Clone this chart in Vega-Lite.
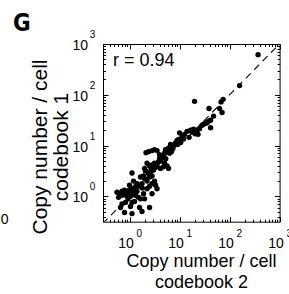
{
  "$schema": "https://vega.github.io/schema/vega-lite/v6.json",
  "autosize": {"type": "none"},
  "padding": {"left": 103, "top": 44, "right": 10, "bottom": 72},
  "width": 176.6,
  "height": 177.7,
  "background": "white",
  "title": {"text": "G", "anchor": "start", "frame": "group", "dx": -90, "dy": 45, "offset": 19, "baseline": "alphabetic", "fontSize": 24, "font": "Liberation Sans Narrow, DejaVu Sans Condensed, Liberation Sans, sans-serif", "fontWeight": "bold", "color": "black"},
  "config": {"view": {"stroke": "black", "strokeWidth": 1}, "font": "Liberation Sans"},
  "datasets": {
    "pts": [
      {"x": 371.5, "y": 616.6}, {"x": 158.5, "y": 151.4}, {"x": 19.95, "y": 74.13}, {"x": 74.13, "y": 81.28},
      {"x": 67.61, "y": 72.44}, {"x": 63.10, "y": 53.70}, {"x": 38.90, "y": 53.70}, {"x": 70.79, "y": 44.67},
      {"x": 47.86, "y": 38.02}, {"x": 41.69, "y": 31.62}, {"x": 38.02, "y": 30.20}, {"x": 35.48, "y": 28.18},
      {"x": 33.11, "y": 27.54}, {"x": 30.20, "y": 26.30}, {"x": 28.18, "y": 25.12}, {"x": 41.69, "y": 22.39},
      {"x": 23.44, "y": 16.60}, {"x": 25.12, "y": 21.38}, {"x": 22.39, "y": 19.95}, {"x": 19.05, "y": 20.89},
      {"x": 16.60, "y": 19.95}, {"x": 14.13, "y": 19.05}, {"x": 12.59, "y": 16.60}, {"x": 11.22, "y": 15.14},
      {"x": 10.0, "y": 17.78}, {"x": 9.55, "y": 13.18}, {"x": 8.913, "y": 12.59}, {"x": 8.318, "y": 11.22},
      {"x": 7.586, "y": 10.0}, {"x": 7.079, "y": 9.55}, {"x": 6.607, "y": 10.47}, {"x": 6.026, "y": 8.913},
      {"x": 5.623, "y": 7.943}, {"x": 5.248, "y": 8.318}, {"x": 6.31, "y": 7.079}, {"x": 5.012, "y": 7.079},
      {"x": 4.786, "y": 6.31}, {"x": 4.467, "y": 6.026}, {"x": 3.981, "y": 6.607}, {"x": 3.548, "y": 7.943},
      {"x": 3.162, "y": 8.318}, {"x": 2.818, "y": 7.943}, {"x": 2.399, "y": 7.586}, {"x": 2.138, "y": 7.244},
      {"x": 4.169, "y": 5.012}, {"x": 3.802, "y": 4.786}, {"x": 3.548, "y": 4.169}, {"x": 3.162, "y": 4.467},
      {"x": 2.818, "y": 4.169}, {"x": 2.512, "y": 3.981}, {"x": 2.239, "y": 4.467}, {"x": 1.995, "y": 3.548},
      {"x": 5.012, "y": 4.467}, {"x": 5.623, "y": 3.981}, {"x": 6.026, "y": 3.548}, {"x": 4.786, "y": 3.802},
      {"x": 4.169, "y": 3.548}, {"x": 3.02, "y": 3.311}, {"x": 2.63, "y": 3.02}, {"x": 2.399, "y": 2.818},
      {"x": 2.089, "y": 3.162}, {"x": 1.905, "y": 2.512}, {"x": 1.66, "y": 2.399}, {"x": 1.995, "y": 2.239},
      {"x": 2.239, "y": 1.995}, {"x": 2.512, "y": 2.399}, {"x": 2.818, "y": 2.512}, {"x": 3.162, "y": 1.995},
      {"x": 3.311, "y": 1.66}, {"x": 3.548, "y": 1.413}, {"x": 2.818, "y": 1.778}, {"x": 2.512, "y": 1.585},
      {"x": 2.239, "y": 1.413}, {"x": 1.778, "y": 1.778}, {"x": 1.585, "y": 1.585}, {"x": 1.122, "y": 2.884},
      {"x": 1.905, "y": 1.122}, {"x": 2.818, "y": 1.122}, {"x": 1.995, "y": 0.891}, {"x": 1.413, "y": 1.259},
      {"x": 1.259, "y": 1.318}, {"x": 1.122, "y": 1.413}, {"x": 1.0, "y": 1.318}, {"x": 0.891, "y": 1.259},
      {"x": 0.794, "y": 1.318}, {"x": 0.708, "y": 1.259}, {"x": 0.631, "y": 1.122}, {"x": 0.562, "y": 1.202},
      {"x": 0.603, "y": 0.955}, {"x": 1.202, "y": 1.122}, {"x": 1.318, "y": 1.047}, {"x": 1.047, "y": 1.0},
      {"x": 0.933, "y": 0.891}, {"x": 1.514, "y": 0.955}, {"x": 1.66, "y": 0.891}, {"x": 1.259, "y": 0.794},
      {"x": 1.122, "y": 0.759}, {"x": 0.832, "y": 0.759}, {"x": 0.708, "y": 0.708}, {"x": 0.661, "y": 0.603},
      {"x": 1.047, "y": 0.631}, {"x": 1.585, "y": 0.603}, {"x": 0.794, "y": 0.479}, {"x": 1.122, "y": 0.457},
      {"x": 1.778, "y": 0.501}, {"x": 2.512, "y": 0.603}, {"x": 0.708, "y": 1.047}, {"x": 1.0, "y": 1.66},
      {"x": 1.413, "y": 1.778}, {"x": 1.202, "y": 1.995}, {"x": 4.0, "y": 5.6}, {"x": 5.3, "y": 5.5},
      {"x": 3.3, "y": 3.7}, {"x": 2.7, "y": 3.5}, {"x": 6.8, "y": 7.5}, {"x": 7.4, "y": 8.9},
      {"x": 9.0, "y": 10.5}, {"x": 10.5, "y": 11.5}, {"x": 12.0, "y": 13.5}, {"x": 15.5, "y": 14.5},
      {"x": 17.8, "y": 18.5}, {"x": 20.5, "y": 17.0}, {"x": 1.8, "y": 1.45}, {"x": 1.3, "y": 1.55},
      {"x": 0.85, "y": 1.05}, {"x": 0.95, "y": 1.15}
    ],
    "diag": [{"x": 0.29, "y": 0.29}, {"x": 1000, "y": 1000}],
    "note": [{"x": 0.466, "y": 470, "label": "r = 0.94"}],
    "frag": [{"x": 0.0032, "y": 0.3475, "label": "0"}]
  },
  "resolve": {"axis": {"x": "independent", "y": "independent"}},
  "layer": [
    {
      "data": {"name": "pts"},
      "mark": {"type": "circle", "size": 29, "color": "black", "opacity": 1},
      "encoding": {
        "x": {"field": "x", "type": "quantitative",
          "scale": {"type": "log", "domain": [0.295, 1000], "nice": false},
          "axis": {"orient": "bottom", "values": [0.3,0.4,0.5,0.6,0.7,0.8,0.9,1,2,3,4,5,6,7,8,9,10,20,30,40,50,60,70,80,90,100,200,300,400,500,600,700,800,900,1000],
            "labelExpr": "(datum.value == 1 || datum.value == 10 || datum.value == 100 || datum.value == 1000) ? '10' : ''",
            "ticks": false, "domain": false, "labelFlush": false, "labelOverlap": false, "labelBound": false,
            "labelFontSize": 14, "labelColor": "black", "labelPadding": 15, "labelOffset": -4, "labelBaseline": "top", "labelAlign": "center",
            "grid": true, "gridColor": "black", "gridOpacity": 1, "gridWidth": 1,
            "gridDash": {"condition": {"test": "datum.value == 1 || datum.value == 10 || datum.value == 100 || datum.value == 1000", "value": [5, 167.7, 5, 0]}, "value": [2.5, 172.7, 2.5, 0]},
            "title": ["Copy number / cell", "codebook 2"], "titleFontSize": 18, "titleFontWeight": "normal", "titleColor": "black",
            "titleX": 98, "titleY": 45, "titleBaseline": "alphabetic", "titleLineHeight": 21, "titleAlign": "center"}},
        "y": {"field": "y", "type": "quantitative",
          "scale": {"type": "log", "domain": [0.3162, 1000], "nice": false},
          "axis": {"orient": "left", "values": [0.4,0.5,0.6,0.7,0.8,0.9,1,2,3,4,5,6,7,8,9,10,20,30,40,50,60,70,80,90,100,200,300,400,500,600,700,800,900,1000],
            "labelExpr": "(datum.value == 1 || datum.value == 10 || datum.value == 100 || datum.value == 1000) ? '10' : ''",
            "ticks": false, "domain": false, "labelFlush": false, "labelOverlap": false, "labelBound": false,
            "labelFontSize": 14, "labelColor": "black", "labelPadding": 15.4, "labelOffset": 1.5, "labelBaseline": "middle", "labelAlign": "right",
            "grid": true, "gridColor": "black", "gridOpacity": 1, "gridWidth": 1,
            "gridDash": {"condition": {"test": "datum.value == 1 || datum.value == 10 || datum.value == 100 || datum.value == 1000", "value": [5, 166.6, 5, 0]}, "value": [2.5, 171.6, 2.5, 0]},
            "title": ["Copy number / cell", "codebook 1"], "titleFontSize": 21, "titleFontWeight": "normal", "titleColor": "black",
            "titleAngle": -90, "titleX": -56.7, "titleY": 102.5, "titleBaseline": "alphabetic", "titleLineHeight": 21, "titleAlign": "center"}}
      }
    },
    {
      "data": {"name": "diag"},
      "mark": {"type": "line", "color": "black", "strokeWidth": 1.1, "strokeDash": [7, 5], "clip": true},
      "encoding": {
        "x": {"field": "x", "type": "quantitative",
          "scale": {"type": "log", "domain": [0.295, 1000], "nice": false},
          "axis": {"orient": "bottom", "values": [1, 10, 100, 1000],
            "labelExpr": "datum.value == 1 ? '0' : datum.value == 10 ? '1' : datum.value == 100 ? '2' : '3'",
            "ticks": false, "domain": false, "grid": false, "labelFlush": false, "labelOverlap": false, "labelBound": false,
            "labelFontSize": 10, "labelColor": "black", "labelPadding": 6.5, "labelOffset": 9.2, "labelBaseline": "top", "labelAlign": "center",
            "title": null}},
        "y": {"field": "y", "type": "quantitative",
          "scale": {"type": "log", "domain": [0.3162, 1000], "nice": false},
          "axis": {"orient": "left", "values": [1, 10, 100, 1000],
            "labelExpr": "datum.value == 1 ? '0' : datum.value == 10 ? '1' : datum.value == 100 ? '2' : '3'",
            "ticks": false, "domain": false, "grid": false, "labelFlush": false, "labelOverlap": false, "labelBound": false,
            "labelFontSize": 10, "labelColor": "black", "labelPadding": 13.7, "labelOffset": -9.5, "labelBaseline": "middle", "labelAlign": "left",
            "title": null}}
      }
    },
    {
      "data": {"name": "note"},
      "mark": {"type": "text", "align": "left", "baseline": "middle", "fontSize": 18, "color": "black", "font": "Liberation Sans"},
      "encoding": {
        "x": {"field": "x", "type": "quantitative", "scale": {"type": "log", "domain": [0.295, 1000], "nice": false}, "axis": null},
        "y": {"field": "y", "type": "quantitative", "scale": {"type": "log", "domain": [0.3162, 1000], "nice": false}, "axis": null},
        "text": {"field": "label"}
      }
    },
    {
      "data": {"name": "frag"},
      "mark": {"type": "text", "align": "center", "baseline": "middle", "fontSize": 14, "color": "black", "font": "Liberation Sans", "clip": false},
      "encoding": {
        "x": {"field": "x", "type": "quantitative", "scale": {"type": "log", "domain": [0.295, 1000], "nice": false}, "axis": null},
        "y": {"field": "y", "type": "quantitative", "scale": {"type": "log", "domain": [0.3162, 1000], "nice": false}, "axis": null},
        "text": {"field": "label"}
      }
    }
  ]
}
